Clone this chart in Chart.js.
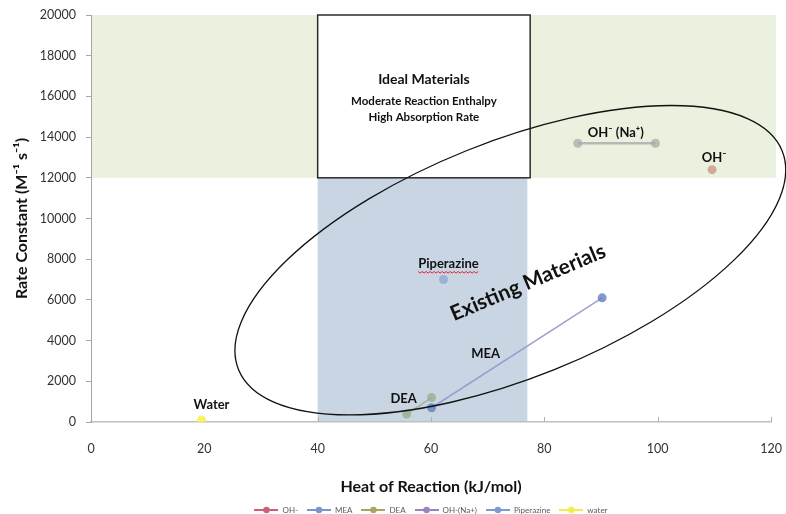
<!DOCTYPE html>
<html>
<head>
<meta charset="utf-8">
<script src="https://cdn.jsdelivr.net/npm/chart.js@4.4.1/dist/chart.umd.min.js"></script>
<style>
  body { margin: 0; background: #ffffff; }
  #chart { display: block; }
</style>
</head>
<body>
<canvas id="chart" width="786" height="514"></canvas>
<script>
// series data (heat of reaction kJ/mol, rate constant M-1 s-1)
const seriesNames = ["OH-", "MEA", "DEA", "OH-(Na+)", "Piperazine", "water"];
const ohX = [109.6];
const ohY = [12400];
const meaX = [60.1, 90.2];
const meaY = [700, 6100];
const deaX = [55.7, 60.1];
const deaY = [390, 1200];
const ohNaX = [85.9, 99.6];
const ohNaY = [13700, 13700];
const pipX = [62.2];
const pipY = [7000];
const waterX = [19.5];
const waterY = [100];

const xTicks = [0, 20, 40, 60, 80, 100, 120];
const yTicks = [0, 2000, 4000, 6000, 8000, 10000, 12000, 14000, 16000, 18000, 20000];

// shaded regions (data units)
const idealX = [40, 77.5];
const idealY = [12000, 20000];
const fastY = [12000, 20000];
const moderateX = [40, 77];

function pts(xs, ys) {
    return xs.map((x, i) => ({x: x, y: ys[i]}));
}

Chart.defaults.font.family = "Lato";
Chart.defaults.color = "#333333";

const chartColors = ["rgba(200,140,120,0.7)", "rgba(95,130,190,0.8)", "rgba(150,175,145,0.8)",
                     "rgba(170,170,170,0.75)", "rgba(140,170,210,0.8)", "rgba(245,245,80,0.9)"];
const lineColors = ["rgba(200,140,120,0.7)", "rgba(150,150,205,0.9)", "rgba(160,175,150,0.9)",
                    "rgba(170,170,170,0.8)", "rgba(140,170,210,0.8)", "rgba(245,245,80,0.9)"];
const legendColors = ["#c8607a", "#7b95c8", "#a9a462", "#9a84bc", "#7d9bd0", "#f0ee4a"];

function legendIcon(color) {
    const c = document.createElement("canvas");
    c.width = 24; c.height = 8;
    const g = c.getContext("2d");
    g.strokeStyle = color;
    g.lineWidth = 2;
    g.beginPath(); g.moveTo(0, 4); g.lineTo(24, 4); g.stroke();
    g.fillStyle = color;
    g.beginPath(); g.arc(12, 4, 3.2, 0, Math.PI * 2); g.fill();
    return c;
}

const allX = [ohX, meaX, deaX, ohNaX, pipX, waterX];
const allY = [ohY, meaY, deaY, ohNaY, pipY, waterY];
const datasets = seriesNames.map((name, i) => ({
    label: name,
    data: pts(allX[i], allY[i]),
    showLine: true,
    borderColor: lineColors[i],
    borderWidth: i === 3 ? 2.5 : 1.5,
    backgroundColor: chartColors[i],
    pointBackgroundColor: chartColors[i],
    pointBorderWidth: 0,
    pointRadius: 4.5,
}));

// label text per series with pixel offsets from one of its points
const pointLabels = [
    {ds: 5, idx: 0, text: "Water", dx: 10, dy: -15},
    {ds: 2, idx: 0, text: "DEA", dx: -3, dy: -15},
    {ds: 1, idx: 0, text: "MEA", dx: 54, dy: -54},
    {ds: 4, idx: 0, text: "Piperazine", dx: 5, dy: -16, squiggle: true},
    {ds: 3, idx: 0, text: "OH\u207B (Na\u207A)", dx: 38, dy: -10},
    {ds: 0, idx: 0, text: "OH\u207B", dx: 2, dy: -12},
];

const annotations = {
    id: "annotations",
    beforeDraw(chart) {
        const {ctx, chartArea, scales: {x, y}} = chart;
        ctx.save();
        // green band: high rate
        ctx.fillStyle = "#ebf1df";
        ctx.fillRect(chartArea.left, y.getPixelForValue(fastY[1]),
                     chartArea.right + 5 - chartArea.left,
                     y.getPixelForValue(fastY[0]) - y.getPixelForValue(fastY[1]));
        // blue band: moderate enthalpy
        ctx.fillStyle = "#c9d5e2";
        ctx.fillRect(x.getPixelForValue(moderateX[0]), y.getPixelForValue(fastY[0]),
                     x.getPixelForValue(moderateX[1]) - x.getPixelForValue(moderateX[0]),
                     y.getPixelForValue(0) - y.getPixelForValue(fastY[0]));
        ctx.restore();
    },
    beforeDatasetsDraw(chart) {
        const {ctx, chartArea, scales: {x, y}} = chart;
        ctx.save();
        // inward x ticks
        ctx.strokeStyle = "#b0b0b0";
        ctx.lineWidth = 1;
        xTicks.slice(1).forEach(v => {
            const px = Math.round(x.getPixelForValue(v)) + 0.5;
            ctx.beginPath();
            ctx.moveTo(px, chartArea.bottom);
            ctx.lineTo(px, chartArea.bottom - 5);
            ctx.stroke();
        });
        // ideal materials box
        const x0 = x.getPixelForValue(idealX[0]), x1 = x.getPixelForValue(idealX[1]);
        const y0 = y.getPixelForValue(idealY[1]), y1 = y.getPixelForValue(idealY[0]);
        ctx.fillStyle = "#ffffff";
        ctx.fillRect(x0, y0, x1 - x0, y1 - y0);
        ctx.strokeStyle = "#2b2b2b";
        ctx.lineWidth = 1.5;
        ctx.strokeRect(x0, y0, x1 - x0, y1 - y0);
        ctx.fillStyle = "#111111";
        ctx.textAlign = "center";
        ctx.textBaseline = "middle";
        const cx = (x0 + x1) / 2;
        ctx.font = "bold 14px Lato";
        ctx.fillText("Ideal Materials", cx, y0 + 64);
        ctx.font = "bold 11.5px Lato";
        ctx.fillText("Moderate Reaction Enthalpy", cx, y0 + 86);
        ctx.fillText("High Absorption Rate", cx, y0 + 102);
        ctx.restore();
    },
    afterDatasetsDraw(chart) {
        const {ctx, scales: {x, y}} = chart;
        ctx.save();
        // existing materials ellipse
        ctx.strokeStyle = "#111111";
        ctx.lineWidth = 1.3;
        ctx.beginPath();
        ctx.ellipse(x.getPixelForValue(74.0), y.getPixelForValue(7950), 293, 118,
                    -21.9 * Math.PI / 180, 0, Math.PI * 2);
        ctx.stroke();
        // rotated title
        ctx.save();
        ctx.translate(x.getPixelForValue(77.1), y.getPixelForValue(6850));
        ctx.rotate(-23 * Math.PI / 180);
        ctx.font = "bold 21px Lato";
        ctx.fillStyle = "#111111";
        ctx.textAlign = "center";
        ctx.textBaseline = "middle";
        ctx.fillText("Existing Materials", 0, 0);
        ctx.restore();
        // point labels
        ctx.font = "bold 13px Lato";
        ctx.textAlign = "center";
        ctx.textBaseline = "middle";
        pointLabels.forEach(l => {
            const p = chart.data.datasets[l.ds].data[l.idx];
            const px = x.getPixelForValue(p.x) + l.dx;
            const py = y.getPixelForValue(p.y) + l.dy;
            ctx.fillStyle = "#111111";
            ctx.fillText(l.text, px, py);
            if (l.squiggle) {
                const w = ctx.measureText(l.text).width;
                ctx.strokeStyle = "#e8202a";
                ctx.lineWidth = 1;
                ctx.beginPath();
                for (let k = 0; k <= w; k += 2) {
                    const yy = py + 8 + (k % 4 === 0 ? 0 : 1.5);
                    if (k === 0) ctx.moveTo(px - w / 2 + k, yy);
                    else ctx.lineTo(px - w / 2 + k, yy);
                }
                ctx.stroke();
            }
        });
        ctx.restore();
    }
};

const chart = new Chart(document.getElementById("chart").getContext("2d"), {
    type: "scatter",
    data: {datasets: datasets},
    options: {
        responsive: false,
        animation: false,
        layout: {padding: {top: 15, right: 15, left: 0, bottom: -10}},
        scales: {
            x: {
                type: "linear",
                min: 0,
                max: 120,
                afterBuildTicks: scale => { scale.ticks = xTicks.map(v => ({value: v})); },
                afterFit: scale => { scale.height = 75; scale.paddingLeft = 0; scale.paddingRight = 0; },
                grid: {display: false},
                border: {display: true, color: "#bfbfbf", width: 1.5},
                ticks: {padding: 11, color: "#333333", font: {size: 12.5}, callback: v => String(v)},
                title: {
                    display: true,
                    text: "Heat of Reaction (kJ/mol)",
                    color: "#111111",
                    font: {size: 16, weight: "bold"},
                    padding: {top: 8, bottom: 1}
                }
            },
            y: {
                type: "linear",
                min: 0,
                max: 20000,
                afterBuildTicks: scale => { scale.ticks = yTicks.map(v => ({value: v})); },
                afterFit: scale => { scale.width = 91; scale.paddingTop = 0; scale.paddingBottom = 0; },
                grid: {display: true, drawOnChartArea: false, drawTicks: true, tickLength: 5, color: "#a6a6a6"},
                border: {display: true, color: "#a6a6a6", width: 1},
                ticks: {padding: 10, color: "#333333", font: {size: 12.5}, callback: v => String(v)},
                title: {
                    display: true,
                    text: "Rate Constant (M\u207B\u00B9 s\u207B\u00B9)",
                    color: "#111111",
                    font: {size: 16, weight: "bold"},
                    padding: {top: 12, bottom: 4}
                }
            }
        },
        plugins: {
            tooltip: {enabled: false},
            legend: {
                display: true,
                position: "bottom",
                fullSize: false,
                labels: {
                    usePointStyle: true,
                    pointStyleWidth: 24,
                    boxHeight: 8,
                    padding: 9,
                    color: "#595959",
                    font: {size: 8},
                    generateLabels: ch => ch.data.datasets.map((d, i) => ({
                        text: d.label,
                        pointStyle: legendIcon(legendColors[i]),
                        fillStyle: legendColors[i],
                        strokeStyle: legendColors[i],
                        lineWidth: 0,
                        hidden: false,
                        datasetIndex: i,
                        fontColor: "#595959"
                    }))
                }
            }
        }
    },
    plugins: [annotations]
});
</script>
</body>
</html>
